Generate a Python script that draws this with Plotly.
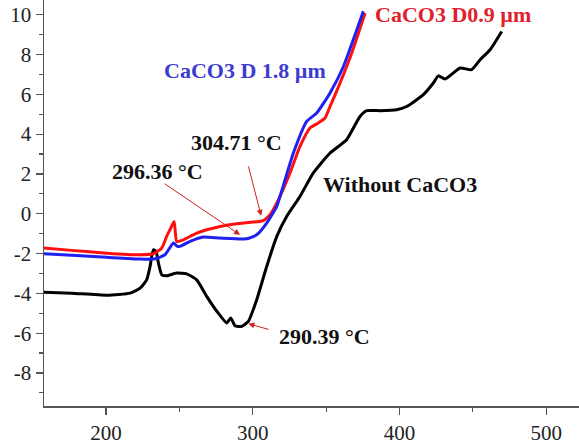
import plotly.graph_objects as go

# Without CaCO3 (black)
black_x = [157.7, 176.5, 200.5, 216.4, 223.2, 227.7, 230.0, 232.2, 234.1, 235.7, 238.0, 241.3, 248.1, 255.0,
           261.8, 268.6, 275.5, 282.3, 285.0, 287.9, 292.5, 297.0, 302.7, 309.5, 316.4, 323.2, 332.2, 341.3,
           352.7, 364.0, 373.1, 377.7, 386.8, 398.1, 404.9, 416.3, 423.1, 426.5, 431.1, 441.3, 449.2, 455.0,
           461.8, 469.7]
black_y = [-3.94, -3.99, -4.09, -3.99, -3.74, -3.32, -2.65, -1.81, -1.89, -2.48, -3.07, -3.12, -2.98, -3.02,
           -3.32, -4.15, -4.90, -5.49, -5.24, -5.63, -5.66, -5.41, -4.32, -2.65, -1.14, -0.13, 0.87, 2.05,
           3.05, 3.72, 4.89, 5.18, 5.18, 5.23, 5.39, 5.98, 6.57, 6.93, 6.77, 7.32, 7.24, 7.74, 8.24, 9.16]

# CaCO3 D0.9 µm (red)
red_x = [157.7, 176.5, 200.5, 223.2, 232.2, 238.0, 241.3, 243.6, 246.4, 248.2, 252.7, 261.8, 277.7, 289.1,
         307.2, 311.8, 316.4, 325.4, 332.2, 339.0, 344.7, 349.3, 352.7, 359.5, 367.5, 376.6]
red_y = [-1.72, -1.84, -1.98, -2.06, -2.01, -1.72, -1.14, -0.80, -0.39, -1.39, -1.31, -0.97, -0.64, -0.50,
         -0.34, -0.05, 0.54, 2.05, 3.38, 4.31, 4.56, 4.81, 5.39, 6.57, 8.08, 10.08]

# CaCO3 D 1.8 µm (blue)
blue_x = [157.7, 176.5, 200.5, 223.2, 233.4, 240.2, 245.9, 248.6, 250.4, 257.3, 266.3, 277.7, 295.9, 302.7,
          309.5, 316.4, 318.6, 327.7, 336.8, 343.6, 352.7, 361.8, 375.4]
blue_y = [-2.01, -2.09, -2.19, -2.28, -2.26, -2.06, -1.47, -1.64, -1.64, -1.39, -1.17, -1.22, -1.26, -1.06,
          -0.47, 0.37, 0.87, 3.05, 4.64, 5.06, 6.07, 7.40, 10.17]

x_ticks = [200, 300, 400, 500]
y_ticks = [-8, -6, -4, -2, 0, 2, 4, 6, 8, 10]

fig = go.Figure()
line_kw = dict(width=3, shape="spline", smoothing=0.5)
fig.add_trace(go.Scatter(x=black_x, y=black_y, mode="lines", line=dict(color="#000000", **line_kw), name="Without CaCO3"))
fig.add_trace(go.Scatter(x=red_x, y=red_y, mode="lines", line=dict(color="#FF1010", **line_kw), name="CaCO3 D0.9 µm"))
fig.add_trace(go.Scatter(x=blue_x, y=blue_y, mode="lines", line=dict(color="#2020F0", **line_kw), name="CaCO3 D 1.8 µm"))

font_fam = "Liberation Serif, Times New Roman, serif"

labels = [
    dict(text="CaCO3 D0.9 µm", x=436.5, y=10.0, color="#E0202C"),
    dict(text="CaCO3 D 1.8 µm", x=294.8, y=7.19, color="#3C3CD0"),
    dict(text="304.71 °C", x=288.6, y=3.57, color="#111111"),
    dict(text="296.36 °C", x=234.8, y=2.11, color="#111111"),
    dict(text="Without CaCO3", x=400.4, y=1.46, color="#111111"),
    dict(text="290.39 °C", x=348.6, y=-6.18, color="#111111"),
]
for lb in labels:
    fig.add_annotation(x=lb["x"], y=lb["y"], text="<b>%s</b>" % lb["text"], showarrow=False,
                       font=dict(family=font_fam, size=22, color=lb["color"]), xanchor="center", yanchor="middle")

arrows = [
    dict(x=305.7, y=-0.1, ax=296.8, ay=2.46),
    dict(x=291.3, y=-1.06, ax=238.9, ay=1.56),
    dict(x=297.0, y=-5.53, ax=311.8, ay=-5.83),
]
for a in arrows:
    fig.add_annotation(x=a["x"], y=a["y"], ax=a["ax"], ay=a["ay"], xref="x", yref="y", axref="x", ayref="y",
                       text="", showarrow=True, arrowhead=2, arrowsize=1.2, arrowwidth=1, arrowcolor="#D02020")

axis_common = dict(showline=True, linecolor="#555555", linewidth=1.5, ticks="outside", ticklen=7, tickwidth=1.2,
                   tickcolor="#555555", showgrid=False, zeroline=False, mirror=False,
                   tickfont=dict(family=font_fam, size=21, color="#222222"))

fig.update_xaxes(range=[157.7, 522.4], tickvals=x_ticks, ticktext=[str(v) for v in x_ticks],
                 minor=dict(ticks="outside", ticklen=4, tickcolor="#555555", dtick=50, tick0=0), **axis_common)
fig.update_yaxes(range=[-9.66, 10.74], tickvals=y_ticks, ticktext=[str(v) for v in y_ticks],
                 minor=dict(ticks="outside", ticklen=4, tickcolor="#555555", dtick=1, tick0=1), **axis_common)

fig.update_layout(width=579, height=447, margin=dict(l=44, r=0, t=0, b=41), showlegend=False,
                  plot_bgcolor="white", paper_bgcolor="white", hovermode=False)

fig.write_html("out.html", config={"displayModeBar": False, "staticPlot": True},
               post_script="document.body.style.margin='0';document.body.style.overflow='hidden';")
